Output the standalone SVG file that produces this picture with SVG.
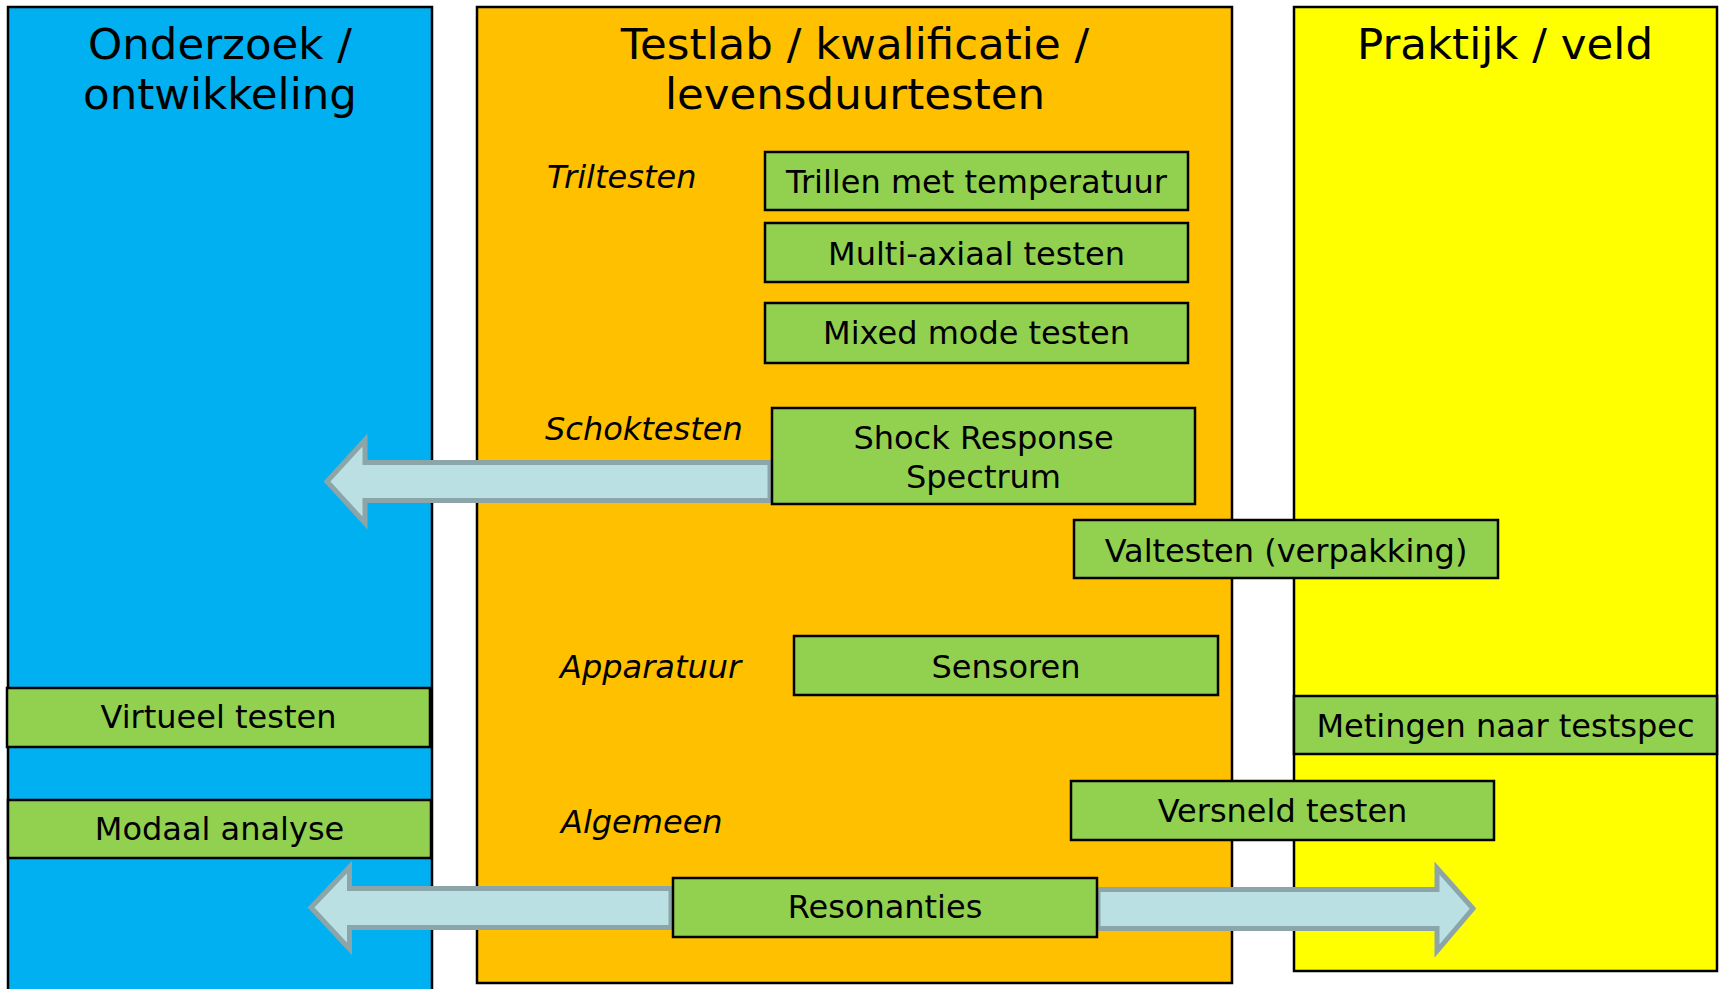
<svg xmlns="http://www.w3.org/2000/svg" width="1719" height="989" viewBox="0 0 1719 989">
<style>
.col{stroke:#000;stroke-width:2.5}
.box{fill:#92D050;stroke:#000;stroke-width:2.5}
.t{font-family:"DejaVu Sans",Verdana,sans-serif;fill:#000}
.title{font-size:43.5px;text-anchor:middle}
.lbl{font-size:32px;text-anchor:middle}
.cat{font-size:32px;font-style:italic}
.arr{fill:#BAE0E3;stroke:#8BA5A8;stroke-width:5;stroke-linejoin:miter}
</style>
<rect width="1719" height="989" fill="#fff"/>
<g id="col-onderzoek">
<rect class="col" x="8" y="7" width="424" height="990" fill="#00B0F0"/>
<text class="t title" x="220" y="59">Onderzoek /</text>
<text class="t title" x="220" y="109">ontwikkeling</text>
</g>
<g id="col-testlab">
<rect class="col" x="477" y="7" width="755" height="976" fill="#FFC000"/>
<text class="t title" x="855" y="59">Testlab / kwalificatie /</text>
<text class="t title" x="855" y="109">levensduurtesten</text>
<text class="t cat" x="547" y="188">Triltesten</text>
<text class="t cat" x="545" y="440">Schoktesten</text>
<text class="t cat" x="560" y="678">Apparatuur</text>
<text class="t cat" x="561" y="833">Algemeen</text>
</g>
<g id="col-praktijk">
<rect class="col" x="1294" y="7" width="423" height="964" fill="#FFFF00"/>
<text class="t title" x="1505" y="59">Praktijk / veld</text>
</g>
<g id="connectors">
<path class="arr" d="M327,481.5 L365,440 L365,462.5 L770,462.5 L770,500.5 L365,500.5 L365,523 Z"/>
<path class="arr" d="M311,907.5 L349.5,867 L349.5,888.5 L671,888.5 L671,927.5 L349.5,927.5 L349.5,949 Z"/>
<path class="arr" d="M1098,889.5 L1437,889.5 L1437,868 L1473,908.5 L1437,951 L1437,928.5 L1098,928.5 Z"/>
</g>
<g id="n-trillen"><rect class="box" x="765" y="152" width="423" height="58"/><text class="t lbl" x="976.5" y="193">Trillen met temperatuur</text></g>
<g id="n-multi"><rect class="box" x="765" y="223" width="423" height="59"/><text class="t lbl" x="976.5" y="265">Multi-axiaal testen</text></g>
<g id="n-mixed"><rect class="box" x="765" y="303" width="423" height="60"/><text class="t lbl" x="976.5" y="344">Mixed mode testen</text></g>
<g id="n-shock"><rect class="box" x="772" y="408" width="423" height="96"/><text class="t lbl" x="983.5" y="449">Shock Response</text><text class="t lbl" x="983.5" y="488">Spectrum</text></g>
<g id="n-valtesten"><rect class="box" x="1074" y="520" width="424" height="58"/><text class="t lbl" x="1286" y="562">Valtesten (verpakking)</text></g>
<g id="n-sensoren"><rect class="box" x="794" y="636" width="424" height="59"/><text class="t lbl" x="1006" y="678">Sensoren</text></g>
<g id="n-metingen"><rect class="box" x="1294" y="696" width="423" height="58"/><text class="t lbl" x="1505.5" y="737">Metingen naar testspec</text></g>
<g id="n-virtueel"><rect class="box" x="7" y="688" width="423" height="59"/><text class="t lbl" x="218.5" y="728">Virtueel testen</text></g>
<g id="n-modaal"><rect class="box" x="8" y="800" width="423" height="58"/><text class="t lbl" x="219.5" y="840">Modaal analyse</text></g>
<g id="n-versneld"><rect class="box" x="1071" y="781" width="423" height="59"/><text class="t lbl" x="1282.5" y="822">Versneld testen</text></g>
<g id="n-resonanties"><rect class="box" x="673" y="878" width="424" height="59"/><text class="t lbl" x="885" y="918">Resonanties</text></g>
</svg>
